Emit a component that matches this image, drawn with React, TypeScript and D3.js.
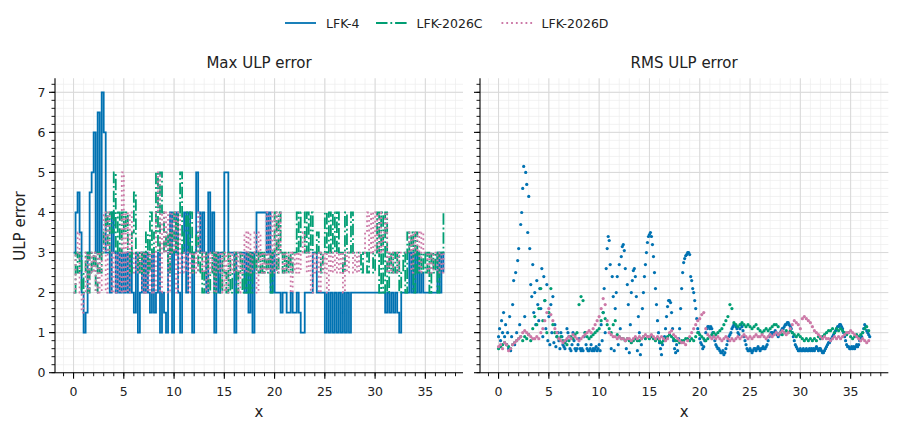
import { useEffect } from "react";
import * as d3 from "d3";

const W = 900;
const H = 433;

const seriesNames = ["LFK-4", "LFK-2026C", "LFK-2026D"];
const seriesColors = ["#0072B2", "#009E73", "#CC79A7"];
const seriesDash = [null, "11.5,2.9,1.8,2.9", "1.8,3"];

const xTicks = [0, 5, 10, 15, 20, 25, 30, 35];
const yTicks = [0, 1, 2, 3, 4, 5, 6, 7];

// max ULP error, sampled every 0.2 in x
const maxStep = 0.2;
const maxLfk4 = [
  3, 4, 4.5, 3.5, 2, 1, 1.5, 3, 4.5, 5, 6, 3, 6.5, 3, 7, 6, 3, 3, 2, 4,
  3, 2, 3, 2, 3, 2, 3, 2, 3, 2, 1.5, 3, 1, 2, 3, 2, 3, 2, 1.5, 3,
  1.5, 2, 3, 1, 2, 1.5, 1, 3, 4, 1, 3, 4, 2, 1, 3, 4, 2, 4, 3, 1,
  3, 5, 4, 3, 4, 3, 2, 4.5, 3, 4, 1, 3, 2, 3, 3, 5, 5, 3, 3, 3,
  1, 3, 3, 3, 3, 2, 3, 1.5, 3, 1, 3, 4, 4, 4, 4, 4, 3, 4, 2, 3,
  2, 2, 2, 1.5, 2, 2, 1.5, 1.5, 2, 1.5, 1.5, 2, 1.5, 1, 1, 2, 2, 2, 2, 3,
  3, 2, 2, 2, 2, 1, 2, 1, 2, 1, 2, 1, 2, 1, 2, 1, 2, 1, 2, 2,
  2, 2, 2, 2, 2, 2, 2, 2, 2, 2, 2, 2, 2, 2, 2, 1.5, 2, 1.5, 2, 1.5,
  2, 1.5, 1, 2, 2, 2, 2, 3, 2, 3, 2, 3, 2, 2.5, 2, 2, 2, 2, 2, 2,
  2, 3, 2, 3, 2.5,
];
const maxLfk2026C = [
  2, 3, 2.5, 3, 2, 2.5, 3, 2, 3, 2.5, 3, 2, 3, 2.5, 3, 3.5, 4, 3, 4, 3.5,
  5, 3, 4, 3, 4, 3.5, 4, 3, 2.5, 3.5, 4.5, 3, 2.5, 3, 2.5, 3, 3.5, 2.5, 4, 3,
  3.5, 5, 3, 5, 4, 3, 3.5, 2.5, 3.5, 3, 4, 3, 4, 5, 3, 3.5, 4, 3, 4, 2.5,
  3, 3.5, 2.5, 3, 2, 2.5, 3, 2, 2.5, 3, 2, 3, 2.5, 2, 3, 2.5, 2, 3, 2, 2.5,
  3, 2, 2.5, 3, 2, 2.5, 2, 3, 2, 3, 2.5, 3, 2.5, 3, 2.5, 3, 2.5, 3, 2, 3,
  4, 2.5, 4, 3, 2.5, 3, 2.5, 3, 2.5, 3, 3, 4, 3, 4, 4, 3, 4, 3, 4, 3,
  3, 3.5, 3, 2.5, 3, 4, 3, 4, 3, 4, 3, 4, 3, 3, 2.5, 4, 3, 3, 4, 3,
  3, 3, 3, 2.5, 3, 3, 2.5, 3, 3, 2.5, 3, 4, 2, 4, 2, 4, 2, 3, 2.5, 3,
  2.5, 3, 2, 2.5, 3, 2, 3.5, 3, 3.5, 2, 3.5, 2.5, 3, 2.5, 3, 2.5, 3, 2, 3, 2.5,
  3, 2, 3, 3, 4,
];
const maxLfk2026D = [
  2, 3, 3.5, 2, 1.5, 2, 3, 2, 3, 2.5, 3, 2, 3, 2, 3, 4, 2, 4, 3, 2,
  3, 2, 3, 2, 5, 2, 4, 2, 4, 3, 2.5, 3, 2.5, 3, 2, 3, 2, 3, 2, 3,
  2, 4, 5, 2, 4, 3, 4, 2, 4, 3, 4, 2, 4, 2.5, 3, 2.5, 3, 2, 3, 2.5,
  3, 2.5, 4, 3, 2.5, 3, 2, 3, 2.5, 3, 2, 3, 2.5, 3, 2, 3, 2, 3, 2.5, 3,
  2.5, 3, 2, 3, 2.5, 3.5, 2.5, 3.5, 2.5, 3, 3.5, 2, 3.5, 2.5, 3, 2.5, 4, 2.5, 4, 2.5,
  4, 2.5, 4, 3, 2.5, 3, 2.5, 3, 2, 3, 2.5, 3, 2.5, 3, 3.5, 3, 2.5, 3, 2, 3,
  2.5, 3, 2, 3, 2.5, 3, 2, 3, 2.5, 3, 2.5, 3, 2.5, 3, 2, 3, 2.5, 3, 3, 2.5,
  3, 2.5, 3, 3, 3, 3.5, 4, 3, 4, 3, 4, 3, 4, 3, 3.5, 4, 2.5, 3, 2.5, 3,
  3, 2.5, 3, 3, 3, 3, 3, 3.5, 2.5, 3.5, 3, 3.5, 2.5, 3.5, 3, 3, 2.5, 3, 2.5, 3,
  3, 2.5, 3, 2.5, 3,
];

// RMS ULP error: LFK-4 sampled every 0.1, the others every 0.2
const rmsStepFine = 0.1;
const rmsStep = 0.2;
const rmsLfk4 = [
  0.9, 1.1, 0.8, 1.3, 1.0, 1.5, 0.9, 1.2, 0.7, 1.0,
  0.6, 1.4, 0.55, 0.9, 1.7, 2.3, 0.7, 2.5, 1.0, 2.8,
  3.1, 1.2, 3.7, 4.0, 4.6, 5.15, 1.4, 5.0, 4.7, 3.5,
  4.4, 3.1, 2.2, 1.9, 2.7, 1.5, 2.0, 1.2, 2.3, 1.7,
  1.3, 2.1, 1.6, 2.6, 0.9, 2.4, 1.8, 1.1, 2.2, 0.8,
  1.4, 0.7, 1.7, 1.0, 1.9, 0.75, 1.2, 0.65, 0.9, 1.0,
  0.8, 0.6, 1.0, 0.9, 0.7, 0.65, 0.6, 0.8, 1.1, 1.0,
  0.9, 0.6, 0.55, 0.7, 1.0, 0.8, 0.6, 0.55, 0.6, 0.7,
  0.85, 0.6, 0.55, 0.6, 0.55, 0.9, 1.0, 0.7, 0.6, 0.55,
  0.55, 0.6, 0.7, 0.55, 0.6, 0.55, 0.6, 0.65, 0.55, 0.6,
  0.7, 0.55, 1.2, 0.8, 1.5, 2.1, 1.0, 2.6, 3.1, 3.4,
  3.3, 2.7, 0.6, 2.4, 1.9, 0.55, 1.6, 2.0, 2.4, 0.7,
  2.7, 1.1, 2.9, 3.15, 3.2, 3.05, 2.6, 0.6, 2.2, 1.7,
  0.5, 1.2, 2.0, 2.3, 2.55, 2.6, 2.4, 1.9, 0.55, 1.4,
  1.0, 0.45, 0.7, 1.6, 2.0, 2.4, 2.7, 3.0, 3.25, 3.4,
  3.45, 3.5, 3.4, 3.2, 2.9, 2.5, 2.1, 1.7, 1.3, 1.0,
  0.75, 0.6, 0.45, 0.7, 0.8, 0.9, 1.1, 1.4, 1.65, 1.8,
  1.8, 1.75, 1.5, 1.1, 0.8, 0.6, 0.5, 0.7, 0.55, 0.85,
  1.1, 1.6, 2.1, 2.5, 2.75, 2.85, 2.92, 2.95, 3.0, 3.0,
  2.95, 2.4, 2.3, 2.1, 2.0, 1.8, 1.6, 1.35, 1.1, 1.0,
  0.85, 0.75, 0.7, 0.6, 0.65, 0.8, 1.0, 1.1, 1.15, 1.15,
  1.1, 1.15, 1.1, 1.0, 0.9, 0.8, 0.7, 0.65, 0.6, 0.6,
  0.55, 0.5, 0.5, 0.55, 0.45, 0.5, 0.6, 0.7, 0.8, 0.9,
  0.95, 1.0, 1.1, 1.15, 1.2, 1.2, 1.15, 1.1, 1.0, 0.95,
  1.1, 1.2, 1.15, 1.05, 0.9, 0.8, 0.7, 0.6, 0.55, 0.55,
  0.6, 0.55, 0.5, 0.55, 0.6, 0.6, 0.55, 0.6, 0.65, 0.6,
  0.55, 0.6, 0.6, 0.65, 0.6, 0.6, 0.65, 0.7, 0.8, 0.9,
  0.95, 1.0, 1.0, 0.95, 1.0, 1.05, 1.0, 0.95, 0.9, 0.95,
  1.0, 1.05, 1.1, 1.1, 1.15, 1.2, 1.2, 1.25, 1.25, 1.2,
  1.15, 1.1, 1.0, 0.9, 0.8, 0.7, 0.65, 0.6, 0.55, 0.55,
  0.6, 0.55, 0.55, 0.6, 0.55, 0.55, 0.6, 0.55, 0.55, 0.6,
  0.55, 0.6, 0.55, 0.6, 0.55, 0.6, 0.65, 0.6, 0.55, 0.6,
  0.6, 0.55, 0.5, 0.5, 0.55, 0.6, 0.65, 0.7, 0.75, 0.75,
  0.8, 0.85, 0.9, 0.95, 1.0, 1.05, 1.1, 1.15, 1.15, 1.2,
  1.2, 1.15, 1.1, 1.0, 0.9, 0.8, 0.7, 0.65, 0.65, 0.6,
  0.6, 0.65, 0.6, 0.65, 0.6, 0.65, 0.7, 0.65, 0.7, 0.8,
  0.85, 0.9, 1.0, 1.1, 1.2, 1.15, 1.05, 1.0, 0.95, 0.9,
];
const rmsLfk2026C = [
  0.6, 0.65, 0.7, 0.75, 0.7, 0.65, 0.6, 0.7, 0.75, 0.8,
  0.85, 0.9, 0.8, 0.9, 0.85, 0.95, 0.8, 1.1, 1.4, 1.2,
  1.6, 2.1, 1.3, 1.8, 1.0, 1.5, 2.1, 1.2, 1.0, 0.9,
  0.85, 0.9, 0.8, 0.75, 0.7, 0.8, 0.9, 0.85, 0.95, 1.0,
  1.7, 1.9, 1.8, 1.0, 0.9, 0.85, 0.9, 0.95, 1.0, 1.05,
  1.1, 1.3, 1.5, 1.35, 1.2, 1.1, 1.0, 1.2, 1.3, 0.95,
  0.9, 0.85, 0.85, 0.8, 0.85, 0.8, 0.75, 0.8, 0.85, 0.8,
  0.8, 0.85, 0.9, 0.85, 0.9, 0.85, 0.9, 0.85, 0.8, 0.85,
  0.8, 0.75, 0.8, 0.85, 0.9, 0.95, 0.9, 0.85, 0.8, 0.8,
  0.75, 0.8, 0.8, 0.85, 0.85, 0.8, 0.85, 0.8, 0.9, 1.0,
  0.95, 0.9, 0.85, 0.8, 0.85, 0.9, 0.95, 1.0, 0.95, 1.0,
  1.05, 1.1, 1.2, 1.3, 1.4, 1.7, 1.6, 1.25, 1.2, 1.15,
  1.2, 1.25, 1.2, 1.15, 1.2, 1.15, 1.1, 1.15, 1.2, 1.1,
  1.05, 1.0, 1.05, 1.1, 1.05, 1.1, 1.15, 1.2, 1.2, 1.15,
  1.0, 0.95, 1.0, 1.05, 1.0, 1.05, 1.0, 0.95, 0.9, 0.95,
  0.9, 0.85, 0.8, 0.85, 0.8, 0.85, 0.8, 0.85, 0.8, 0.9,
  0.85, 0.9, 0.95, 1.0, 1.05, 1.05, 1.1, 1.0, 1.1, 1.05,
  1.1, 1.05, 1.0, 0.95, 1.0, 0.9, 0.85, 0.9, 0.95, 0.9,
  0.95, 1.0, 1.1, 1.15, 1.05,
];
const rmsLfk2026D = [
  0.65, 0.7, 0.6, 0.75, 0.7, 0.55, 0.6, 0.7, 0.75, 0.8,
  0.85, 0.9, 1.0, 1.05, 1.0, 0.95, 0.9, 0.85, 0.85, 0.9,
  0.85, 1.0, 1.1, 1.3, 1.5, 1.6, 1.45, 1.3, 1.1, 1.0,
  0.85, 0.8, 0.75, 0.8, 0.85, 0.9, 0.85, 0.95, 0.9, 0.85,
  0.8, 0.85, 0.9, 0.95, 1.0, 1.05, 1.0, 1.1, 1.2, 1.3,
  1.4, 1.6, 1.85, 1.7, 1.3, 1.0, 0.95, 0.9, 0.9, 0.85,
  0.9, 0.85, 0.85, 0.8, 0.85, 0.85, 0.8, 0.85, 0.9, 0.85,
  0.9, 0.85, 0.9, 0.95, 0.9, 0.9, 0.95, 0.9, 0.85, 0.9,
  0.85, 0.9, 0.85, 0.8, 0.85, 1.0, 1.05, 0.95, 0.9, 0.85,
  0.8, 0.75, 0.75, 0.7, 0.8, 0.9, 1.0, 1.1, 1.2, 1.3,
  1.35, 1.45, 1.5, 1.1, 0.95, 0.9, 0.85, 0.9, 0.85, 0.9,
  0.85, 0.8, 0.85, 0.9, 0.85, 0.8, 0.85, 0.8, 0.85, 0.9,
  0.85, 0.9, 0.95, 0.9, 0.85, 0.9, 0.85, 0.9, 0.95, 0.9,
  0.9, 0.95, 0.9, 0.85, 0.9, 0.95, 0.9, 0.95, 1.0, 0.95,
  1.0, 1.05, 1.0, 0.95, 1.0, 1.1, 1.2, 1.3, 1.25, 1.2,
  1.1, 1.35, 1.4, 1.35, 1.3, 1.25, 1.15, 1.05, 1.0, 0.95,
  0.9, 0.85, 0.9, 0.85, 0.85, 0.8, 0.85, 0.9, 0.85, 0.9,
  0.85, 0.9, 0.95, 1.0, 1.0, 1.05, 1.0, 0.95, 0.9, 0.85,
  0.8, 0.85, 0.8, 0.75, 0.8,
];

const maxSeries = [maxLfk4, maxLfk2026C, maxLfk2026D];
const rmsSeries = [
  { values: rmsLfk4, step: rmsStepFine },
  { values: rmsLfk2026C, step: rmsStep },
  { values: rmsLfk2026D, step: rmsStep },
];

const FONT = "DejaVu Sans, sans-serif";
const top = 78.3;
const bottom = 372.7;
const y = d3.scaleLinear().domain([0, 7.35]).range([bottom, top]);
const xDomain: [number, number] = [-1.845, 38.745];

function Axes({ x0, x1, title, labels, children }: any) {
  const x = d3.scaleLinear().domain(xDomain).range([x0, x1]);
  const xMinor = d3.range(-1, 39, 1);
  const yMinor = d3.range(0, 7.3, 0.2);
  const cx = (x0 + x1) / 2;
  return (
    <g>
      {xMinor.map((v) => (
        <line key={"gx" + v} x1={x(v)} x2={x(v)} y1={top} y2={bottom} stroke="#ececec" strokeWidth={0.7} />
      ))}
      {yMinor.map((v, i) => (
        <line key={"gy" + i} x1={x0} x2={x1} y1={y(v)} y2={y(v)} stroke="#ececec" strokeWidth={0.7} />
      ))}
      {xTicks.map((v) => (
        <line key={"Gx" + v} x1={x(v)} x2={x(v)} y1={top} y2={bottom} stroke="#d9d9d9" strokeWidth={1} />
      ))}
      {yTicks.map((v) => (
        <line key={"Gy" + v} x1={x0} x2={x1} y1={y(v)} y2={y(v)} stroke="#d9d9d9" strokeWidth={1} />
      ))}
      <g>{children(x)}</g>
      <line x1={x0} x2={x0} y1={top} y2={bottom} stroke="#000" strokeWidth={1.1} />
      <line x1={x0} x2={x1} y1={bottom} y2={bottom} stroke="#000" strokeWidth={1.1} />
      {xMinor.map((v) => (
        <line key={"tx" + v} x1={x(v)} x2={x(v)} y1={bottom} y2={bottom + 3.5} stroke="#000" strokeWidth={0.9} />
      ))}
      {yMinor.map((v, i) => (
        <line key={"ty" + i} x1={x0 - 3.5} x2={x0} y1={y(v)} y2={y(v)} stroke="#000" strokeWidth={0.9} />
      ))}
      {xTicks.map((v) => (
        <g key={"Tx" + v}>
          <line x1={x(v)} x2={x(v)} y1={bottom} y2={bottom + 6} stroke="#000" strokeWidth={1.1} />
          <text x={x(v)} y={395.5} textAnchor="middle" fontSize={12.5} fontFamily={FONT} fill="#222">
            {v}
          </text>
        </g>
      ))}
      {yTicks.map((v) => (
        <g key={"Ty" + v}>
          <line x1={x0 - 6} x2={x0} y1={y(v)} y2={y(v)} stroke="#000" strokeWidth={1.1} />
          {labels && (
            <text x={x0 - 9.5} y={y(v) + 4.5} textAnchor="end" fontSize={12.5} fontFamily={FONT} fill="#222">
              {v}
            </text>
          )}
        </g>
      ))}
      <text x={cx} y={68} textAnchor="middle" fontSize={15} fontFamily={FONT} fill="#222">
        {title}
      </text>
      <text x={cx} y={417} textAnchor="middle" fontSize={15} fontFamily={FONT} fill="#222">
        x
      </text>
    </g>
  );
}

export default function App() {
  useEffect(() => {
    document.body.style.margin = "0";
  }, []);

  const legend = [
    { lx: 285, tx: 326 },
    { lx: 376, tx: 416.5 },
    { lx: 501.5, tx: 541.5 },
  ];

  return (
    <svg width={W} height={H} viewBox={`0 0 ${W} ${H}`} style={{ display: "block", background: "#fff" }}>
      <Axes x0={55} x1={463} title="Max ULP error" labels>
        {(x: d3.ScaleLinear<number, number>) =>
          maxSeries.map((vals, s) => {
            const line = d3
              .line<number>()
              .x((_, i) => x(i * maxStep))
              .y((d) => y(d))
              .curve(d3.curveStepAfter);
            return (
              <path
                key={s}
                d={line(vals) || ""}
                fill="none"
                stroke={seriesColors[s]}
                strokeWidth={1.8}
                strokeDasharray={seriesDash[s] || undefined}
              />
            );
          })
        }
      </Axes>
      <Axes x0={480} x1={888.3} title="RMS ULP error" labels={false}>
        {(x: d3.ScaleLinear<number, number>) =>
          rmsSeries.map((ser, s) => (
            <g key={s} fill={seriesColors[s]}>
              {ser.values.map((v, i) => (
                <circle key={i} cx={x(i * ser.step)} cy={y(v)} r={1.6} />
              ))}
            </g>
          ))
        }
      </Axes>
      <text
        transform="translate(25,226) rotate(-90)"
        textAnchor="middle"
        fontSize={15}
        fontFamily={FONT}
        fill="#222"
      >
        ULP error
      </text>
      {seriesNames.map((name, s) => (
        <g key={name}>
          <line
            x1={legend[s].lx}
            x2={legend[s].lx + 31}
            y1={23}
            y2={23}
            stroke={seriesColors[s]}
            strokeWidth={1.8}
            strokeDasharray={seriesDash[s] || undefined}
          />
          <text x={legend[s].tx} y={27.5} fontSize={12.5} fontFamily={FONT} fill="#222">
            {name}
          </text>
        </g>
      ))}
    </svg>
  );
}
